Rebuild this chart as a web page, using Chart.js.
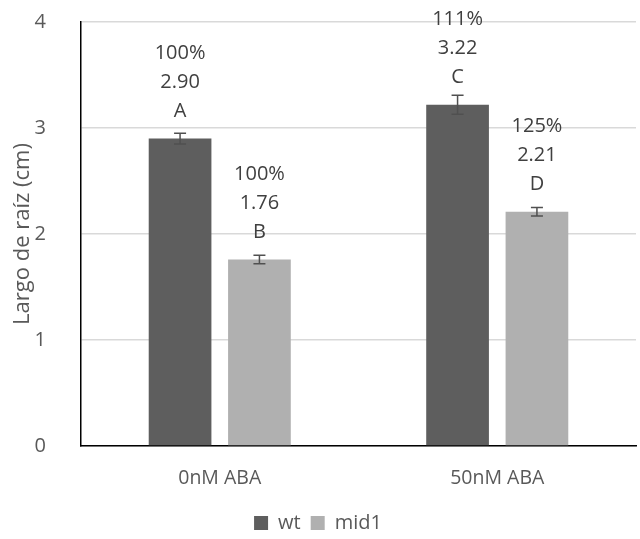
<html>
<head>
<style>
  body { margin:0; background:#fff; overflow:hidden; }
  #wrap { width:640px; height:539px; }
</style>
</head>
<body>
<div id="wrap"><canvas id="myChart" width="640" height="539"></canvas></div>

<script src="https://cdn.jsdelivr.net/npm/chart.js"></script>

<script>
  const labels = ['0nM ABA', '50nM ABA'];
  const wt = [2.90, 3.22];
  const mid1 = [1.76, 2.21];
  const wtErr = [0.05, 0.09];
  const mid1Err = [0.04, 0.04];
  const wtPct = ['100%', '111%'];
  const mid1Pct = ['100%', '125%'];
  const wtLetter = ['A', 'C'];
  const mid1Letter = ['B', 'D'];
  const yTicks = [0, 1, 2, 3, 4];

  const FONT = '"Open Sans", "Noto Sans", sans-serif';

  // error bars + labels above the bars
  const barExtras = {
    id: 'barExtras',
    afterDatasetsDraw(chart) {
      const ctx = chart.ctx;
      const y = chart.scales.y;
      chart.data.datasets.forEach((ds, di) => {
        const meta = chart.getDatasetMeta(di);
        meta.data.forEach((bar, i) => {
          const v = ds.data[i], e = ds.err[i];
          const top = y.getPixelForValue(v + e);
          const bot = y.getPixelForValue(v - e);
          ctx.save();
          ctx.strokeStyle = '#505050';
          ctx.lineWidth = 1.5;
          ctx.beginPath();
          ctx.moveTo(bar.x, top); ctx.lineTo(bar.x, bot);
          ctx.moveTo(bar.x - 6, top); ctx.lineTo(bar.x + 6, top);
          ctx.moveTo(bar.x - 6, bot); ctx.lineTo(bar.x + 6, bot);
          ctx.stroke();

          const lines = [ds.pct[i], v.toFixed(2), ds.letter[i]];
          ctx.fillStyle = '#404040';
          ctx.font = '20px ' + FONT;
          ctx.textAlign = 'center';
          ctx.textBaseline = 'middle';
          let ly = bar.y - 27;
          for (let k = lines.length - 1; k >= 0; k--) {
            ctx.fillText(lines[k], bar.x, ly);
            ly -= 29;
          }
          ctx.restore();
        });
      });
    }
  };

  const data = {
    labels: labels,
    datasets: [{
      label: 'wt',
      data: wt,
      err: wtErr,
      pct: wtPct,
      letter: wtLetter,
      backgroundColor: '#5e5e5e'
    }, {
      label: 'mid1',
      data: mid1,
      err: mid1Err,
      pct: mid1Pct,
      letter: mid1Letter,
      backgroundColor: '#b0b0b0'
    }]
  };

  const config = {
    type: 'bar',
    data: data,
    plugins: [barExtras],
    options: {
      responsive: false,
      animation: false,
      layout: { padding: { left: 0, right: 4, top: 22, bottom: -4 } },
      datasets: { bar: { categoryPercentage: 0.572, barPercentage: 0.79 } },
      plugins: {
        tooltip: { enabled: false },
        legend: {
          position: 'bottom',
          labels: {
            boxWidth: 14, boxHeight: 14, padding: 10,
            color: '#595959',
            font: { family: FONT, size: 20 }
          }
        }
      },
      scales: {
        x: {
          afterFit: (s) => { s.height = 57; },
          grid: { display: false, drawTicks: false },
          border: { color: '#000', width: 1.5 },
          ticks: { color: '#595959', padding: 21, font: { family: FONT, size: 19.5 } }
        },
        y: {
          min: 0, max: 4,
          afterBuildTicks: (s) => { s.ticks = yTicks.map(v => ({ value: v })); },
          afterFit: (s) => { s.width = 81; },
          // invisible tick marks give the label gap without padding the top
          grid: { color: '#d9d9d9', lineWidth: 1.5, drawTicks: true, tickLength: 35, tickColor: 'rgba(0,0,0,0)' },
          border: { color: '#000', width: 1.5 },
          ticks: { color: '#595959', padding: 0, font: { family: FONT, size: 20 } },
          title: {
            display: true,
            text: 'Largo de raíz (cm)',
            color: '#595959',
            padding: { top: 10, bottom: 0 },
            font: { family: FONT, size: 22 }
          }
        }
      }
    }
  };

  const myChart = new Chart(document.getElementById('myChart'), config);
</script>
</body>
</html>
